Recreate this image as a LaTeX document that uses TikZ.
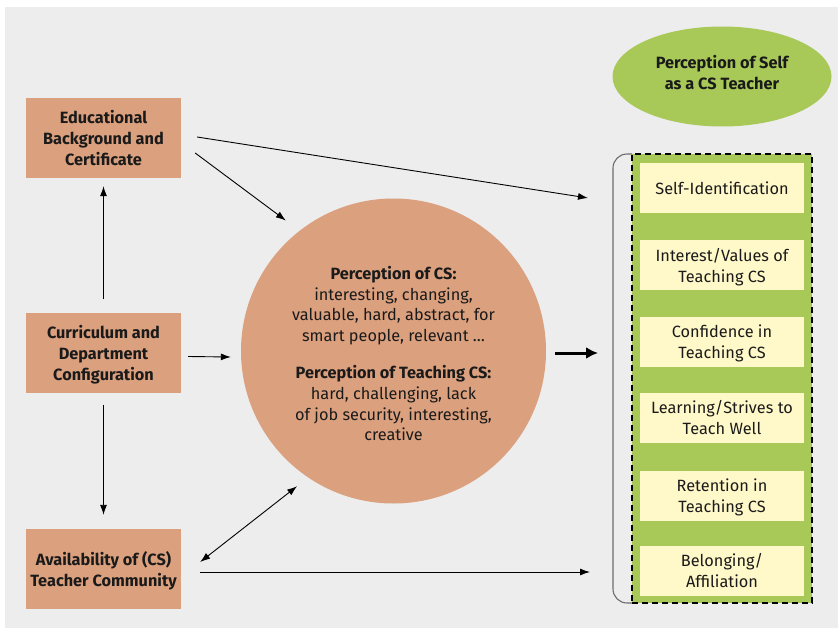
\documentclass[tikz,border=0pt]{standalone}
\usepackage{fontspec}
\setmainfont{Fira Sans}
\usetikzlibrary{arrows.meta,shapes.geometric}
\definecolor{bgray}{HTML}{EDEDED}
\definecolor{tan}{HTML}{DBA07E}
\definecolor{lgreen}{HTML}{A8C957}
\definecolor{lyellow}{HTML}{FFF8C8}
\definecolor{txt}{HTML}{1A1A1A}
\tikzset{
  factor/.style={fill=tan, minimum width=155pt, minimum height=80pt, align=center, inner sep=0pt,
    font=\fontsize{16.3}{21}\selectfont\bfseries, text=txt},
  outcome/.style={fill=lyellow, minimum width=164pt, minimum height=50pt, align=center, inner sep=0pt,
    font=\fontsize{16.3}{21}\selectfont, text=txt},
  arr/.style={-{Latex[length=10pt,width=7pt]}, line width=0.9pt, draw=black},
  darr/.style={{Latex[length=10pt,width=7pt]}-{Latex[length=10pt,width=7pt]}, line width=0.9pt, draw=black},
  bigarr/.style={-{Latex[length=12pt,width=12pt]}, line width=3pt, draw=black},
}
\begin{document}
\begin{tikzpicture}[x=1pt,y=-1pt]
\useasboundingbox (0,0) rectangle (838,629);
\fill[bgray] (5,7) rectangle (838,628);

% left factors
\node[factor] (edu) at (103.5,138) {Educational\\Background and\\Certificate};
\node[factor] (cur) at (103.5,352.5) {Curriculum and\\Department\\\smash{Configuration}};
\node[factor] (ava) at (103.5,569) {Availability of (CS)\\\smash{Teacher Community}};

% central circle
\node[circle, fill=tan, minimum size=305pt, inner sep=0pt] (circ) at (393.5,351) {};
\node[align=center, text=txt, font=\fontsize{16.3}{20.8}\selectfont] (ctext) at (393.5,353.5)
  {\textbf{Perception of CS:}\\interesting, changing,\\valuable, hard, abstract, for\\smart people, relevant \dots\\[16pt]
   \textbf{Perception of Teaching CS:}\\hard, challenging, lack\\of job security, interesting,\\creative};

% ellipse
\node[ellipse, fill=lgreen, minimum width=219pt, minimum height=100pt, inner sep=0pt] (self) at (722,76.5) {};
\node[align=center, font=\fontsize{16.3}{21}\selectfont\bfseries, text=txt] (selftext) at (722,72.5) {Perception of Self\\as a CS Teacher};

% right panel
\draw[gray!85!black, line width=1.1pt, rounded corners=14pt] (632,154) -- (613,154) -- (613,603) -- (632,603);
\node[fill=lgreen, draw=black, line width=1.8pt, dash pattern=on 6pt off 4pt, minimum width=180pt,
  minimum height=449pt, inner sep=0pt] (panel) at (722,378.5) {};
\node[outcome] (o1) at (722,188) {Self-Identification};
\node[outcome] (o2) at (722,265) {Interest/Values of\\\smash{Teaching CS}};
\node[outcome] (o3) at (722,341.5) {Confidence in\\\smash{Teaching CS}};
\node[outcome] (o4) at (722,418) {Learning/Strives to\\Teach Well};
\node[outcome] (o5) at (722,495.5) {Retention in\\\smash{Teaching CS}};
\node[outcome] (o6) at (722,571) {Belonging/\\Affiliation};

\coordinate (pA) at (588,198);
\coordinate (pB) at (598,353);
\coordinate (pC) at (590,572);

% connectors
\draw[arr] ([xshift=16pt,yshift=1pt]edu.east) -- (pA);
\draw[arr, shorten >=17pt] ([xshift=14pt,yshift=-15pt]edu.east) -- (circ.128);
\draw[arr, shorten <=13pt, shorten >=8pt] (cur.north) -- (edu.south);
\draw[arr] ([xshift=7pt,yshift=-4pt]cur.east) -- ([xshift=-10pt,yshift=-6pt]circ.west);
\draw[arr, shorten <=12pt, shorten >=14pt] (cur.south) -- (ava.north);
\draw[bigarr] ([xshift=9pt,yshift=-2pt]circ.east) -- (pB);
\draw[darr, shorten >=14pt] ([xshift=19pt,yshift=7pt]ava.east) -- (circ.236);
\draw[arr] ([xshift=19pt,yshift=-3pt]ava.east) -- (pC);
\end{tikzpicture}
\end{document}
